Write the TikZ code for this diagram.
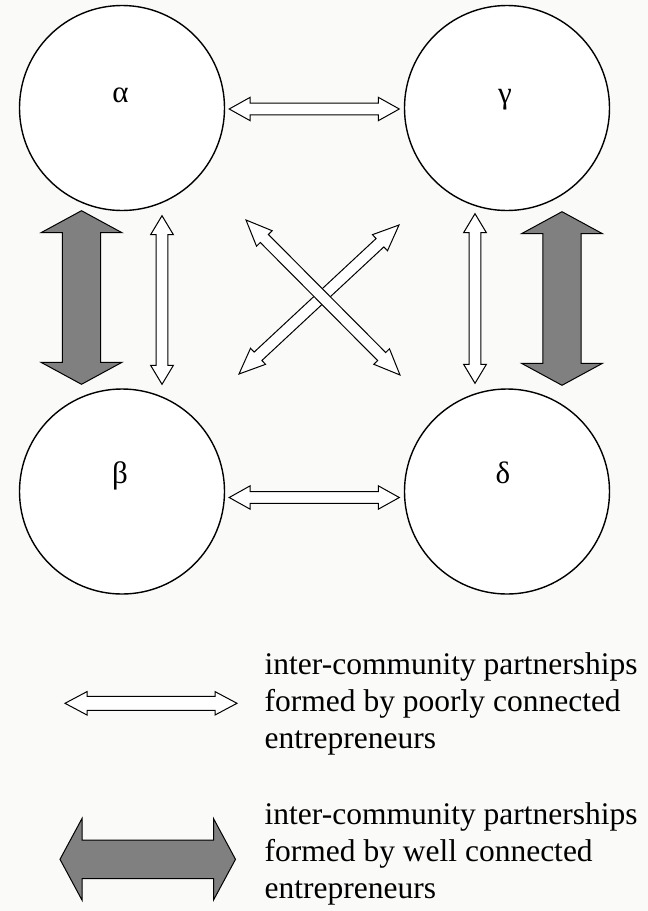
\documentclass[tikz,border=0pt]{standalone}
\usepackage{fontspec}
\setmainfont{Liberation Serif}
\usetikzlibrary{calc,positioning}
\definecolor{paper}{RGB}{250,250,248}
\definecolor{fatgrey}{RGB}{128,128,128}

% double-headed block arrow: [style]{from}{to}{shaft half}{head half}{head length}
\newcommand{\biarrow}[6][]{%
  \coordinate (ba) at ($(#2)!#6!(#3)$);
  \coordinate (bb) at ($(#3)!#6!(#2)$);
  \draw[#1] (#2) -- ($(ba)!#5!90:(#3)$) -- ($(ba)!#4!90:(#3)$)
    -- ($(bb)!#4!-90:(#2)$) -- ($(bb)!#5!-90:(#2)$) -- (#3)
    -- ($(bb)!#5!90:(#2)$) -- ($(bb)!#4!90:(#2)$)
    -- ($(ba)!#4!-90:(#3)$) -- ($(ba)!#5!-90:(#3)$) -- cycle;
}

\begin{document}
\begin{tikzpicture}[x=1pt,y=-1pt,
  comm/.style={circle, draw, line width=1.4pt, fill=white, minimum size=205pt, inner sep=0pt},
  greek/.style={anchor=base, inner sep=0pt, font=\fontsize{31}{37}\selectfont},
  legtext/.style={anchor=west, align=left, inner sep=0pt, font=\fontsize{31.5}{37}\selectfont},
  thinarr/.style={draw, line width=1pt, fill=white},
  fatarr/.style={draw, line width=1pt, fill=fatgrey}
]
\fill[paper] (0,0) rectangle (648,911);
\useasboundingbox (0,0) rectangle (648,911);

% communities
\node[comm] (alpha) at (122,108) {};
\node[comm] (gamma) at (507,108) {};
\node[comm] (beta) at (122,491.5) {};
\node[comm] (delta) at (507,491.5) {};

\node[greek] (alab) at ($(alpha.center)+(-1.5,-6)$) {α};
\node[greek] (glab) at ($(gamma.center)+(-2,-5)$) {γ};
\node[greek] (blab) at ($(beta.center)+(-2,-8)$) {β};
\node[greek] (dlab) at ($(delta.center)+(-4,-8)$) {δ};

% arrow ends
\coordinate (ag1) at ($(alpha.east)+(4,1)$);
\coordinate (ag2) at ($(gamma.west)+(-4.5,1)$);
\coordinate (bd1) at ($(beta.east)+(4,6)$);
\coordinate (bd2) at ($(delta.west)+(-4.5,6)$);
\coordinate (ab1) at ($(alpha.south)+(40,4.5)$);
\coordinate (ab2) at ($(beta.north)+(40,-4)$);
\coordinate (gd1) at ($(gamma.south)+(-32,2.5)$);
\coordinate (gd2) at ($(delta.north)+(-32,-5)$);
\coordinate (abw1) at ($(alpha.south)+(-40.5,-0.5)$);
\coordinate (abw2) at ($(beta.north)+(-40.5,-4)$);
\coordinate (gdw1) at ($(gamma.south)+(55,0.5)$);
\coordinate (gdw2) at ($(delta.north)+(55,-3)$);
\coordinate (gb1) at ($(gamma.center)+(-108,117)$);
\coordinate (gb2) at ($(beta.center)+(117,-117.5)$);
\coordinate (ad1) at ($(alpha.center)+(124,112)$);
\coordinate (ad2) at ($(delta.center)+(-107,-116.5)$);

% poorly connected links
\biarrow[thinarr]{ag1}{ag2}{5.8pt}{11.7pt}{21pt}
\biarrow[thinarr]{bd1}{bd2}{5.8pt}{11.7pt}{21pt}
\biarrow[thinarr]{ab1}{ab2}{5.8pt}{11.4pt}{19pt}
\biarrow[thinarr]{gd1}{gd2}{5.8pt}{11.4pt}{19pt}
\biarrow[thinarr]{gb1}{gb2}{5.7pt}{11pt}{26pt}
\biarrow[thinarr]{ad1}{ad2}{5.7pt}{11pt}{26pt}

% well connected links
\biarrow[fatarr]{abw1}{abw2}{19.2pt}{40.5pt}{22pt}
\biarrow[fatarr]{gdw1}{gdw2}{19.2pt}{40.5pt}{22pt}

% legend
\coordinate (lw1) at (65,703.3);
\coordinate (lw2) at (237,703.3);
\coordinate (lg1) at (60,859.3);
\coordinate (lg2) at (235.5,859.3);
\biarrow[thinarr]{lw1}{lw2}{7pt}{11.7pt}{22pt}
\biarrow[fatarr]{lg1}{lg2}{19.2pt}{40.8pt}{22pt}

\node[legtext] (legpoor) at (264.5,703.5) {inter-community partnerships\\formed by poorly connected\\entrepreneurs};
\node[legtext] (legwell) at (264.5,853.5) {inter-community partnerships\\formed by well connected\\entrepreneurs};

\end{tikzpicture}
\end{document}
